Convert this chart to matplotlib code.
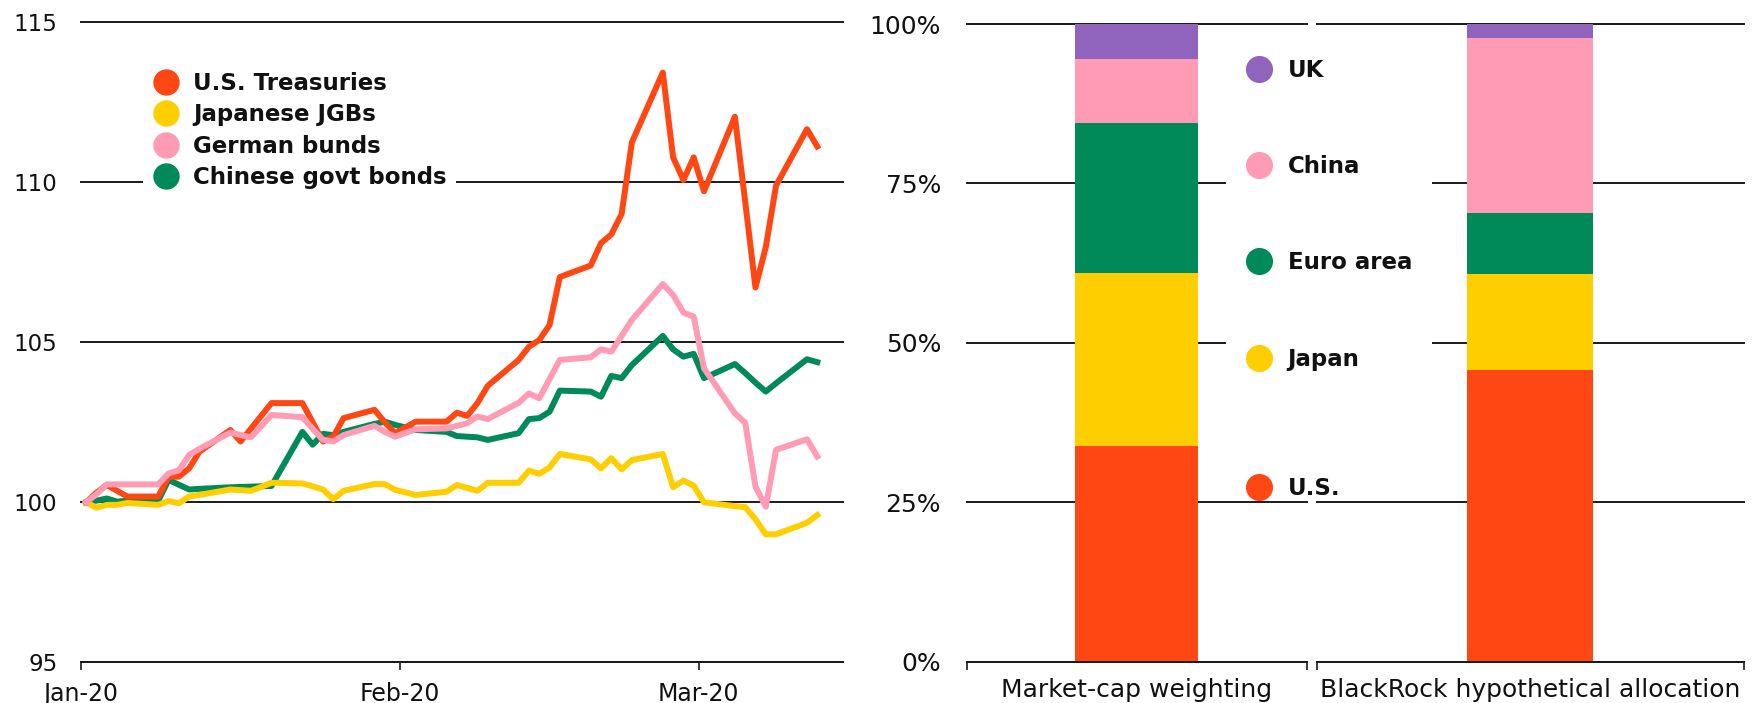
import matplotlib
matplotlib.use("Agg")
import matplotlib.pyplot as plt
from matplotlib.lines import Line2D
import pandas as pd

# ---------------- data ----------------
dates = ["2020-01-01", "2020-01-02", "2020-01-03", "2020-01-04", "2020-01-05",
         "2020-01-08", "2020-01-09", "2020-01-10", "2020-01-11", "2020-01-12",
         "2020-01-15", "2020-01-16", "2020-01-17", "2020-01-18", "2020-01-19",
         "2020-01-22", "2020-01-23", "2020-01-24", "2020-01-25", "2020-01-26",
         "2020-01-29", "2020-01-30", "2020-01-31", "2020-02-01", "2020-02-02",
         "2020-02-05", "2020-02-06", "2020-02-07", "2020-02-08", "2020-02-09",
         "2020-02-12", "2020-02-13", "2020-02-14", "2020-02-15", "2020-02-16",
         "2020-02-19", "2020-02-20", "2020-02-21", "2020-02-22", "2020-02-23",
         "2020-02-26", "2020-02-27", "2020-02-28", "2020-02-29", "2020-03-01",
         "2020-03-04", "2020-03-05", "2020-03-06", "2020-03-07", "2020-03-08",
         "2020-03-11", "2020-03-12"]

us_treasuries = [100.0, 100.3, 100.54, 100.36, 100.18,
                 100.18, 100.8, 100.8, 101.06, 101.58,
                 102.26, 101.9, 102.3, 102.7, 103.1,
                 103.1, 102.5, 101.9, 102.05, 102.63,
                 102.89, 102.5, 102.16, 102.34, 102.52,
                 102.52, 102.8, 102.7, 103.1, 103.64,
                 104.45, 104.86, 105.07, 105.54, 107.04,
                 107.4, 108.1, 108.37, 109.01, 111.25,
                 113.43, 110.78, 110.07, 110.78, 109.72,
                 112.05, 109.4, 106.71, 107.97, 109.9,
                 111.66, 111.12]

japanese_jgbs = [100.0, 99.83, 99.92, 99.92, 99.98,
                 99.92, 100.04, 99.97, 100.18, 100.23,
                 100.4, 100.38, 100.36, 100.48, 100.61,
                 100.59, 100.5, 100.4, 100.1, 100.36,
                 100.57, 100.57, 100.39, 100.31, 100.23,
                 100.33, 100.54, 100.45, 100.36, 100.61,
                 100.61, 100.99, 100.89, 101.09, 101.51,
                 101.34, 101.06, 101.38, 101.03, 101.32,
                 101.51, 100.47, 100.68, 100.52, 100.0,
                 99.88, 99.85, 99.47, 99.0, 99.0,
                 99.36, 99.6]

german_bunds = [100.0, 100.25, 100.56, 100.56, 100.56,
                100.56, 100.9, 101.0, 101.48, 101.67,
                102.18, 102.1, 102.03, 102.38, 102.73,
                102.66, 102.3, 101.95, 101.9, 102.1,
                102.39, 102.2, 102.05, 102.17, 102.28,
                102.31, 102.39, 102.47, 102.68, 102.6,
                103.11, 103.4, 103.25, 103.85, 104.45,
                104.53, 104.78, 104.71, 105.2, 105.7,
                106.82, 106.48, 105.93, 105.8, 104.19,
                102.78, 102.49, 100.49, 99.86, 101.64,
                101.97, 101.43]

chinese_govt = [100.0, 100.05, 100.12, 100.02, 100.05,
                100.05, 100.7, 100.55, 100.4, 100.42,
                100.47, 100.48, 100.49, 100.5, 100.51,
                102.2, 101.8, 102.14, 102.1, 102.2,
                102.45, 102.52, 102.42, 102.34, 102.26,
                102.2, 102.07, 102.05, 102.03, 101.95,
                102.16, 102.6, 102.63, 102.83, 103.49,
                103.46, 103.3, 103.95, 103.88, 104.29,
                105.2, 104.78, 104.55, 104.64, 103.88,
                104.32, 104.04, 103.74, 103.46, 103.72,
                104.47, 104.38]

line_labels = ["U.S. Treasuries", "Japanese JGBs", "German bunds", "Chinese govt bonds"]
month_ticks = ["2020-01-01", "2020-02-01", "2020-03-01"]
month_labels = ["Jan-20", "Feb-20", "Mar-20"]
y_ticks = [95, 100, 105, 110, 115]

bar_categories = ["Market-cap weighting", "BlackRock hypothetical allocation"]
regions = ["U.S.", "Japan", "Euro area", "China", "UK"]
market_cap = [33.9, 27.0, 23.6, 10.0, 5.5]
blackrock_alloc = [45.7, 15.1, 9.55, 27.45, 2.2]
pct_ticks = [0, 25, 50, 75, 100]
pct_labels = ["0%", "25%", "50%", "75%", "100%"]

# ---------------- style ----------------
ORANGE = "#FF4713"
YELLOW = "#FFCE00"
PINK = "#FF9BB4"
GREEN = "#008A5A"
PURPLE = "#9063BC"
INK = "#111111"
GRID = "#1a1a1a"
region_colors = [ORANGE, YELLOW, GREEN, PINK, PURPLE]

plt.rcParams["font.family"] = ["DejaVu Sans"]

W, H = 1764, 703
fig = plt.figure(figsize=(W / 100, H / 100), dpi=100)

# ---------------- left: line chart ----------------
top_px, bot_px = 22.3, 662.3
ax = fig.add_axes([81 / W, 1 - bot_px / H, 762 / W, (bot_px - top_px) / H])
x = pd.to_datetime(dates) + pd.Timedelta(hours=12)

lw = 4.3
ax.plot(x, chinese_govt, color=GREEN, lw=lw, solid_joinstyle="round", zorder=3)
ax.plot(x, japanese_jgbs, color=YELLOW, lw=lw, solid_joinstyle="round", zorder=4)
ax.plot(x, us_treasuries, color=ORANGE, lw=lw, solid_joinstyle="round", zorder=5)
ax.plot(x, german_bunds, color=PINK, lw=lw, solid_joinstyle="round", zorder=6)

ax.set_ylim(95, 115)
ax.set_yticks(y_ticks)
ax.set_xlim(pd.Timestamp("2020-01-01"), pd.Timestamp("2020-03-15"))
ax.set_xticks(pd.to_datetime(month_ticks))
ax.set_xticklabels(month_labels)
ax.yaxis.grid(True, color=GRID, lw=1.4)
for gl in ax.get_ygridlines():
    gl.set_clip_on(False)
ax.set_axisbelow(True)
for s in ["left", "right", "top"]:
    ax.spines[s].set_visible(False)
ax.spines["bottom"].set_color(GRID)
ax.spines["bottom"].set_linewidth(1.4)
ax.tick_params(axis="y", length=0, pad=17, labelsize=16.5, labelcolor=INK)
ax.tick_params(axis="x", length=6, width=1.2, color=GRID, pad=8,
               labelsize=17, labelcolor=INK)

line_handles = [Line2D([], [], ls="none", marker="o", ms=19, mec="none", mfc=c)
                for c in [ORANGE, YELLOW, PINK, GREEN]]
leg1 = fig.legend(handles=line_handles, labels=line_labels,
                  loc="upper left", bbox_to_anchor=(142.8 / W, 1 - 62.5 / H),
                  borderaxespad=0, frameon=True, facecolor="white", edgecolor="none",
                  framealpha=1, fancybox=False, handlelength=1.2, handletextpad=0.6,
                  labelspacing=0.375, borderpad=0.4,
                  prop={"size": 16.5, "weight": "bold"})
for t in leg1.get_texts():
    t.set_color(INK)

# ---------------- right: stacked bars ----------------
rtop, rbot = 24.0, 661.7
ax1 = fig.add_axes([966.7 / W, 1 - rbot / H, 340 / W, (rbot - rtop) / H])
ax2 = fig.add_axes([1317 / W, 1 - rbot / H, 426.6 / W, (rbot - rtop) / H])
bar_axes = [ax1, ax2]
bar_values = [market_cap, blackrock_alloc]
bar_widths = [0.362, 0.295]

for bax, cat, vals, bw in zip(bar_axes, bar_categories, bar_values, bar_widths):
    bottom = 0
    for v, c in zip(vals, region_colors):
        bax.bar([0], [v], bottom=bottom, width=bw, color=c, edgecolor="none", zorder=3)
        bottom += v
    bax.set_xlim(-0.5, 0.5)
    bax.set_ylim(0, 100)
    bax.set_yticks(pct_ticks)
    bax.yaxis.grid(True, color=GRID, lw=1.4)
    for gl in bax.get_ygridlines():
        gl.set_clip_on(False)
    bax.set_axisbelow(True)
    for s in ["left", "right", "top"]:
        bax.spines[s].set_visible(False)
    bax.spines["bottom"].set_color(GRID)
    bax.spines["bottom"].set_linewidth(1.4)
    bax.spines["bottom"].set_zorder(4)
    bax.set_xticks([-0.5, 0.5])
    bax.set_xticklabels(["", ""])
    bax.tick_params(axis="x", which="major", length=6, width=1.2, color=GRID)
    bax.set_xticks([0], minor=True)
    bax.set_xticklabels([cat], minor=True)
    bax.tick_params(axis="x", which="minor", length=0, pad=12, labelsize=18,
                    labelcolor=INK)

ax1.set_yticklabels(pct_labels)
ax1.tick_params(axis="y", length=0, pad=18.5, labelsize=18, labelcolor=INK)
ax2.tick_params(axis="y", length=0, labelleft=False)

region_handles = [Line2D([], [], ls="none", marker="o", ms=19.5, mec="none", mfc=c)
                  for c in region_colors]
leg_kw = dict(loc="upper left", borderaxespad=0, fancybox=False, handlelength=1.2,
              handletextpad=0.64, borderpad=0.85, prop={"size": 16.5, "weight": "bold"})
order = [4, 3, 2, 1]
leg2 = fig.legend(handles=[region_handles[i] for i in order],
                  labels=[regions[i] for i in order],
                  bbox_to_anchor=(1226 / W, 1 - 39.4 / H), frameon=True,
                  facecolor="white", edgecolor="none", framealpha=1,
                  labelspacing=3.196, **leg_kw)
leg3 = fig.legend(handles=[region_handles[0]], labels=[regions[0]],
                  bbox_to_anchor=(1226 / W, 1 - 457.2 / H), frameon=False, **leg_kw)
for lg in (leg2, leg3):
    for t in lg.get_texts():
        t.set_color(INK)

fig.savefig("out.png", dpi=100, facecolor="white")
